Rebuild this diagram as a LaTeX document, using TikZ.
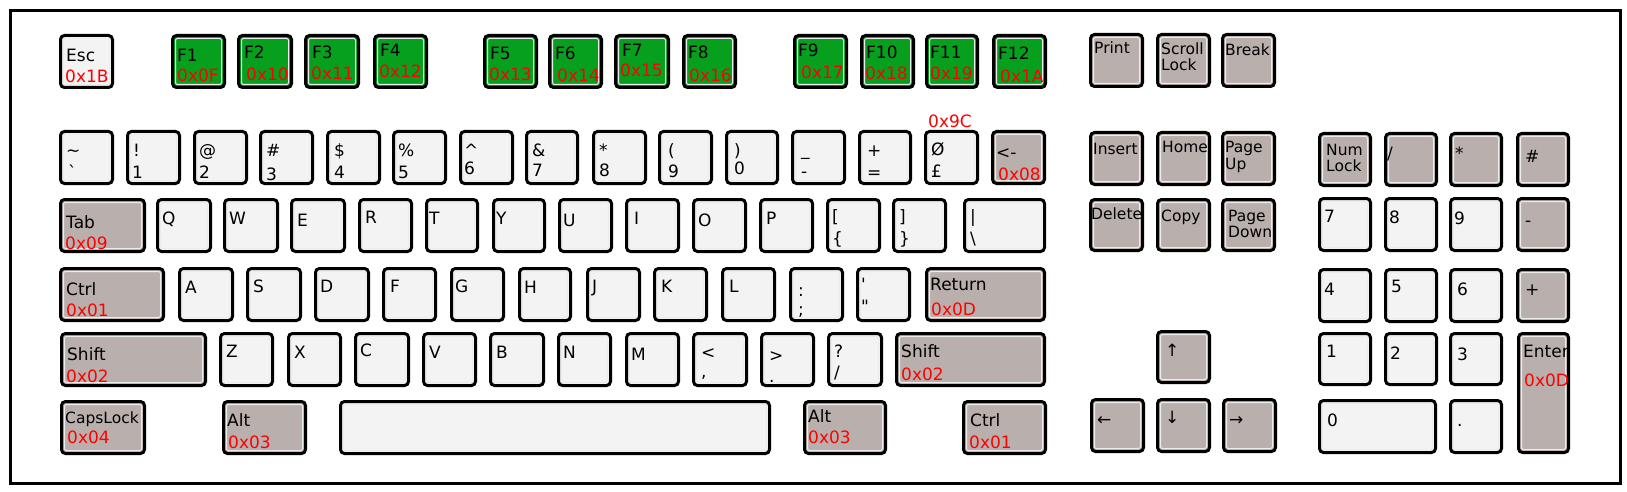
\documentclass[tikz,border=0pt]{standalone}
\usepackage{fontspec}
\newfontfamily\kf{DejaVu Sans}
\definecolor{keylight}{RGB}{243,243,243}
\definecolor{keygray}{RGB}{185,176,174}
\definecolor{keygreen}{RGB}{6,160,30}
\definecolor{keyinner}{RGB}{236,236,236}
\newcounter{lab}
\newcommand\K[6]{\node[key,#6,minimum width={#4-#2-3},minimum height={#5-#3-3}] (#1) at ({(#2+#4)/2},{(#3+#5)/2}) {};}
\newcommand\Lb[4][lab]{\stepcounter{lab}\node[#1] (t\arabic{lab}) at (#2,#3) {#4};}
\tikzset{
  key/.style={draw=black, line width=3pt, rounded corners=4pt, inner sep=0pt, outer sep=0pt,
    path picture={\draw[line width=1pt, draw=keyinner, rounded corners=2pt]
      ([shift={(3pt,-3pt)}]path picture bounding box.north west) rectangle
      ([shift={(-3pt,3pt)}]path picture bounding box.south east);}},
  lt/.style={fill=keylight}, gy/.style={fill=keygray}, gr/.style={fill=keygreen},
  lab/.style={font=\kf\fontsize{17}{20}\selectfont, inner sep=0pt, anchor=base west, text=black},
  sm/.style={lab, font=\kf\fontsize{15.5}{18}\selectfont},
  hex/.style={lab, text=red},
  frame/.style={draw=black, line width=3pt}
}
\begin{document}
\begin{tikzpicture}[x=1pt,y=-1pt]
\useasboundingbox[fill=white] (0,0) rectangle (1627,492);
\draw[frame] (10,11) rectangle (1620,483);
% ---- function row
\K{esc}{59}{34}{114}{89}{lt}
\K{f1}{171}{34}{226}{89}{gr}
\K{f2}{237}{34}{293}{89}{gr}
\K{f3}{304}{34}{360}{89}{gr}
\K{f4}{373}{34}{428}{89}{gr}
\K{f5}{483}{34}{538}{89}{gr}
\K{f6}{548}{34}{603}{89}{gr}
\K{f7}{614}{34}{670}{89}{gr}
\K{f8}{682}{34}{737}{89}{gr}
\K{f9}{793}{34}{848}{89}{gr}
\K{f10}{860}{34}{915}{89}{gr}
\K{f11}{925}{34}{979}{89}{gr}
\K{f12}{992}{34}{1047}{89}{gr}
\K{print}{1089}{33}{1144}{88}{gy}
\K{scroll}{1156}{33}{1211}{88}{gy}
\K{break}{1221}{33}{1276}{88}{gy}
% ---- number row
\K{tilde}{59}{130}{114}{185}{lt}
\K{k1}{126}{130}{181}{185}{lt}
\K{k2}{193}{130}{248}{185}{lt}
\K{k3}{259}{130}{314}{185}{lt}
\K{k4}{326}{130}{381}{185}{lt}
\K{k5}{392}{130}{447}{185}{lt}
\K{k6}{459}{130}{514}{185}{lt}
\K{k7}{525}{130}{579}{185}{lt}
\K{k8}{592}{130}{647}{185}{lt}
\K{k9}{658}{130}{713}{185}{lt}
\K{k0}{725}{130}{779}{185}{lt}
\K{minus}{791}{130}{846}{185}{lt}
\K{equal}{858}{130}{912}{185}{lt}
\K{pound}{924}{130}{979}{185}{lt}
\K{bksp}{991}{130}{1046}{185}{gy}
\K{insert}{1089}{131}{1144}{186}{gy}
\K{home}{1156}{131}{1211}{186}{gy}
\K{pgup}{1221}{131}{1276}{186}{gy}
\K{numlock}{1318}{132}{1372}{187}{gy}
\K{kpdiv}{1384}{132}{1438}{187}{gy}
\K{kpmul}{1449}{132}{1503}{187}{gy}
\K{kphash}{1516}{132}{1570}{187}{gy}
% ---- tab row
\K{tab}{59}{198}{146}{253}{gy}
\K{q}{156}{198}{212}{253}{lt}
\K{w}{223}{198}{279}{253}{lt}
\K{e}{290}{198}{346}{253}{lt}
\K{r}{358}{198}{413}{253}{lt}
\K{t}{425}{198}{479}{253}{lt}
\K{y}{492}{198}{546}{253}{lt}
\K{u}{558}{198}{613}{253}{lt}
\K{i}{625}{198}{680}{253}{lt}
\K{o}{692}{198}{747}{253}{lt}
\K{p}{759}{198}{814}{253}{lt}
\K{lbr}{826}{198}{881}{253}{lt}
\K{rbr}{892}{198}{947}{253}{lt}
\K{bslash}{963}{198}{1046}{253}{lt}
\K{delete}{1089}{198}{1144}{252}{gy}
\K{copy}{1156}{198}{1211}{252}{gy}
\K{pgdn}{1221}{198}{1276}{252}{gy}
\K{kp7}{1318}{197}{1372}{252}{lt}
\K{kp8}{1384}{197}{1438}{252}{lt}
\K{kp9}{1449}{197}{1503}{252}{lt}
\K{kpminus}{1516}{197}{1570}{252}{gy}
% ---- ctrl row
\K{ctrl}{59}{267}{165}{322}{gy}
\K{a}{178}{267}{234}{322}{lt}
\K{s}{246}{267}{302}{322}{lt}
\K{d}{314}{267}{370}{322}{lt}
\K{f}{382}{267}{437}{322}{lt}
\K{g}{450}{267}{505}{322}{lt}
\K{h}{518}{267}{572}{322}{lt}
\K{j}{586}{267}{641}{322}{lt}
\K{k}{653}{267}{708}{322}{lt}
\K{l}{721}{267}{776}{322}{lt}
\K{semi}{789}{267}{844}{322}{lt}
\K{quote}{856}{267}{911}{322}{lt}
\K{return}{925}{267}{1046}{322}{gy}
\K{kp4}{1318}{268}{1372}{323}{lt}
\K{kp5}{1384}{268}{1438}{323}{lt}
\K{kp6}{1449}{268}{1503}{323}{lt}
\K{kpplus}{1516}{268}{1570}{323}{gy}
% ---- shift row
\K{lshift}{60}{332}{207}{387}{gy}
\K{z}{219}{332}{274}{387}{lt}
\K{x}{287}{332}{342}{387}{lt}
\K{c}{354}{332}{410}{387}{lt}
\K{v}{422}{332}{477}{387}{lt}
\K{b}{489}{332}{545}{387}{lt}
\K{n}{557}{332}{612}{387}{lt}
\K{m}{625}{332}{680}{387}{lt}
\K{comma}{692}{332}{748}{387}{lt}
\K{period}{760}{332}{815}{387}{lt}
\K{slash}{827}{332}{883}{387}{lt}
\K{rshift}{895}{332}{1046}{387}{gy}
\K{up}{1156}{330}{1211}{384}{gy}
\K{kp1}{1318}{332}{1372}{386}{lt}
\K{kp2}{1384}{332}{1438}{386}{lt}
\K{kp3}{1449}{332}{1503}{386}{lt}
\K{enter}{1517}{332}{1570}{454}{gy}
% ---- bottom row
\K{caps}{60}{400}{146}{455}{gy}
\K{lalt}{222}{400}{307}{455}{gy}
\K{space}{339}{400}{771}{455}{lt}
\K{ralt}{803}{400}{887}{455}{gy}
\K{rctrl}{962}{400}{1047}{455}{gy}
\K{left}{1090}{398}{1145}{453}{gy}
\K{down}{1156}{398}{1211}{453}{gy}
\K{right}{1222}{398}{1277}{453}{gy}
\K{kp0}{1318}{399}{1437}{454}{lt}
\K{kpdot}{1449}{399}{1503}{454}{lt}
% ================= labels
\Lb{66}{62}{Esc}\Lb[hex]{65}{83}{0x1B}
\Lb{177}{62}{F1}\Lb[hex]{177}{82}{0x0F}
\Lb{244}{59}{F2}\Lb[hex]{246}{81}{0x10}
\Lb{312}{59}{F3}\Lb[hex]{311}{80}{0x11}
\Lb{380}{57}{F4}\Lb[hex]{379}{78}{0x12}
\Lb{490}{60}{F5}\Lb[hex]{489}{81}{0x13}
\Lb{555}{60}{F6}\Lb[hex]{557}{82}{0x14}
\Lb{622}{57}{F7}\Lb[hex]{620}{77}{0x15}
\Lb{688}{59}{F8}\Lb[hex]{689}{82}{0x16}
\Lb{798}{57}{F9}\Lb[hex]{801}{79}{0x17}
\Lb{866}{59}{F10}\Lb[hex]{865}{80}{0x18}
\Lb{930}{59}{F11}\Lb[hex]{930}{80}{0x19}
\Lb{998}{60}{F12}\Lb[hex]{1000}{83}{0x1A}
\Lb[sm]{1094}{54}{Print}
\Lb[sm]{1161}{55}{Scroll}\Lb[sm]{1161}{71}{Lock}
\Lb[sm]{1225}{56}{Break}
\Lb[hex]{928}{128}{0x9C}
% number row
\Lb{66}{157}{\textasciitilde}\Lb{68}{178}{`}
\Lb{133}{157}{!}\Lb{132}{178}{1}
\Lb{199}{157}{@}\Lb{199}{178}{2}
\Lb{266}{157}{\#}\Lb{266}{180}{3}
\Lb{334}{157}{\$}\Lb{334}{178}{4}
\Lb{398}{157}{\%}\Lb{398}{178}{5}
\Lb{464}{157}{\textasciicircum}\Lb{464}{175}{6}
\Lb{532}{157}{\&}\Lb{532}{176}{7}
\Lb{599}{157}{*}\Lb{599}{176}{8}
\Lb{668}{157}{(}\Lb{668}{177}{9}
\Lb{734}{157}{)}\Lb{734}{175}{0}
\Lb{801}{155}{\_}\Lb{801}{177}{-}
\Lb{867}{157}{+}\Lb{867}{178}{=}
\Lb{931}{155}{Ø}\Lb{931}{177}{£}
\Lb{996}{158}{<-}\Lb[hex]{998}{180}{0x08}
\Lb[sm]{1093}{154}{Insert}
\Lb[sm]{1162}{153}{Home}
\Lb[sm]{1225}{153}{Page}\Lb[sm]{1225}{169}{Up}
\Lb[sm]{1326}{155}{Num}\Lb[sm]{1326}{171}{Lock}
\Lb{1387}{160}{/}
\Lb{1455}{159}{*}
\Lb{1525}{162}{\#}
% tab row
\Lb{66}{228}{Tab}\Lb[hex]{65}{249}{0x09}
\Lb{162}{224}{Q}\Lb{229}{224}{W}\Lb{297}{226}{E}\Lb{365}{223}{R}
\Lb{429}{224}{T}\Lb{496}{224}{Y}\Lb{563}{226}{U}\Lb{634}{224}{I}
\Lb{698}{226}{O}\Lb{766}{224}{P}
\Lb{832}{222}{[}\Lb{832}{244}{\{}
\Lb{899}{222}{]}\Lb{899}{244}{\}}
\Lb{970}{222}{\textbar}\Lb{970}{244}{\textbackslash}
\Lb[sm]{1091}{219}{Delete}
\Lb[sm]{1161}{221}{Copy}
\Lb[sm]{1228}{221}{Page}\Lb[sm]{1228}{237}{Down}
\Lb{1324}{222}{7}\Lb{1389}{223}{8}\Lb{1454}{224}{9}\Lb{1525}{226}{-}
% ctrl row
\Lb{66}{295}{Ctrl}\Lb[hex]{66}{316}{0x01}
\Lb{185}{293}{A}\Lb{253}{292}{S}\Lb{320}{292}{D}\Lb{390}{292}{F}
\Lb{455}{292}{G}\Lb{524}{293}{H}\Lb{592}{292}{J}\Lb{661}{292}{K}\Lb{729}{292}{L}
\Lb{798}{296}{:}\Lb{798}{315}{;}
\Lb{861}{290}{\textquotesingle}\Lb{861}{312}{\textquotedbl}
\Lb{930}{290}{Return}\Lb[hex]{931}{315}{0x0D}
\Lb{1324}{295}{4}\Lb{1391}{292}{5}\Lb{1457}{295}{6}\Lb{1525}{295}{+}
% shift row
\Lb{67}{360}{Shift}\Lb[hex]{66}{382}{0x02}
\Lb{226}{357}{Z}\Lb{294}{358}{X}\Lb{360}{356}{C}\Lb{429}{358}{V}
\Lb{496}{358}{B}\Lb{563}{358}{N}\Lb{631}{360}{M}
\Lb{701}{358}{<}\Lb{701}{377}{,}
\Lb{769}{361}{>}\Lb{769}{382}{.}
\Lb{834}{357}{?}\Lb{834}{378}{/}
\Lb{901}{357}{Shift}\Lb[hex]{901}{380}{0x02}
\Lb{1165}{356}{↑}
\Lb{1326}{357}{1}\Lb{1390}{359}{2}\Lb{1457}{360}{3}
\Lb{1523}{357}{Enter}\Lb[hex]{1524}{386}{0x0D}
% bottom row
\Lb[sm]{65}{423}{CapsLock}\Lb[hex]{67}{443}{0x04}
\Lb{227}{426}{Alt}\Lb[hex]{228}{448}{0x03}
\Lb{808}{422}{Alt}\Lb[hex]{808}{443}{0x03}
\Lb{970}{426}{Ctrl}\Lb[hex]{969}{448}{0x01}
\Lb{1097}{425}{←}\Lb{1165}{423}{↓}\Lb{1229}{425}{→}
\Lb{1327}{426}{0}\Lb{1457}{426}{.}
\end{tikzpicture}
\end{document}
